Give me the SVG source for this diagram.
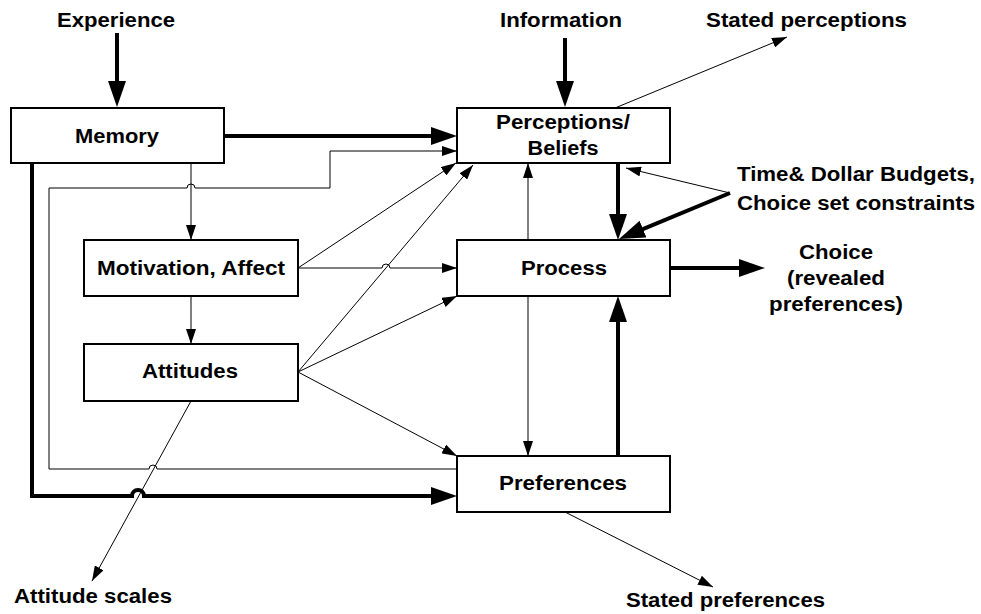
<svg xmlns="http://www.w3.org/2000/svg" width="981" height="614" viewBox="0 0 981 614">
<style>
text{font-family:"Liberation Sans",Arial,sans-serif;font-weight:bold;font-size:20px;fill:#000}
.box{fill:#fff;stroke:#000;stroke-width:2}
.thick{fill:none;stroke:#000;stroke-width:4;marker-end:url(#ab)}
.thin{fill:none;stroke:#000;stroke-width:1;marker-end:url(#as)}
.c{text-anchor:middle}
</style>
<defs>
<marker id="ab" markerUnits="userSpaceOnUse" markerWidth="26" markerHeight="18" refX="10" refY="9" orient="auto" viewBox="0 0 26 18"><path d="M0,0 L26,9 L0,18 z" fill="#000"/></marker>
<marker id="as" markerUnits="userSpaceOnUse" markerWidth="15" markerHeight="10" refX="15" refY="5" orient="auto" viewBox="0 0 15 10"><path d="M0,0 L15,5 L0,10 z" fill="#000"/></marker>
</defs>
<rect width="981" height="614" fill="#fff"/>
<g id="connectors">
<path class="thick" d="M117,33 V91"/>
<path class="thick" d="M565,38 V91"/>
<path class="thick" d="M224,136 H441"/>
<path class="thick" d="M32,163 V496 H132 A6,6 0 0 1 144,496 H441"/>
<path class="thick" d="M618,163 V224"/>
<path class="thick" d="M618,456 V312"/>
<path class="thick" d="M730,193 L633.8,232.9"/>
<path class="thick" d="M670,268 H749"/>
<path class="thin" d="M191,163 V240"/>
<path class="thin" d="M191,296 V344"/>
<path class="thin" d="M298,268 L456,163"/>
<path class="thin" d="M298,268 H382 A4,4 0 0 1 390,268 H457"/>
<path class="thin" d="M298,372 L473,165"/>
<path class="thin" d="M298,372 L457,296"/>
<path class="thin" d="M298,372 L457,456"/>
<path class="thin" d="M528,240 V163"/>
<path class="thin" d="M528,296 V456"/>
<path class="thin" d="M457,469 H157 A4,4 0 0 0 149,469 H49 V188 H187 A4,4 0 0 1 195,188 H330 V151 H457"/>
<path class="thin" d="M730,193 L626,168"/>
<path class="thin" d="M615,108 L787,37"/>
<path class="thin" d="M565,512 L713,587"/>
<path class="thin" d="M191,401 L92,581"/>
</g>
<g id="memory"><rect class="box" x="11" y="108" width="213" height="55"/><text class="c" x="117" y="143" textLength="84" lengthAdjust="spacingAndGlyphs">Memory</text></g>
<g id="perceptions"><rect class="box" x="457" y="108" width="213" height="55"/><text class="c" x="563" y="129" textLength="134" lengthAdjust="spacingAndGlyphs">Perceptions/</text><text class="c" x="563" y="155" textLength="71" lengthAdjust="spacingAndGlyphs">Beliefs</text></g>
<g id="motivation"><rect class="box" x="84" y="240" width="214" height="56"/><text class="c" x="191" y="275" textLength="188" lengthAdjust="spacingAndGlyphs">Motivation, Affect</text></g>
<g id="attitudes"><rect class="box" x="84" y="344" width="214" height="57"/><text class="c" x="190" y="378" textLength="96" lengthAdjust="spacingAndGlyphs">Attitudes</text></g>
<g id="process"><rect class="box" x="457" y="240" width="213" height="56"/><text class="c" x="564" y="275" textLength="86" lengthAdjust="spacingAndGlyphs">Process</text></g>
<g id="preferences"><rect class="box" x="457" y="456" width="213" height="56"/><text class="c" x="563" y="490" textLength="128" lengthAdjust="spacingAndGlyphs">Preferences</text></g>
<g id="experience"><text class="c" x="116" y="27" textLength="118" lengthAdjust="spacingAndGlyphs">Experience</text></g>
<g id="information"><text class="c" x="561" y="27" textLength="122" lengthAdjust="spacingAndGlyphs">Information</text></g>
<g id="stated-perceptions"><text x="706" y="27" textLength="201" lengthAdjust="spacingAndGlyphs">Stated perceptions</text></g>
<g id="budgets"><text x="737" y="181" textLength="238" lengthAdjust="spacingAndGlyphs">Time&amp; Dollar Budgets,</text><text x="737" y="210" textLength="238" lengthAdjust="spacingAndGlyphs">Choice set constraints</text></g>
<g id="choice"><text class="c" x="836" y="259" textLength="74" lengthAdjust="spacingAndGlyphs">Choice</text><text class="c" x="836" y="285" textLength="98" lengthAdjust="spacingAndGlyphs">(revealed</text><text class="c" x="836" y="311" textLength="134" lengthAdjust="spacingAndGlyphs">preferences)</text></g>
<g id="attitude-scales"><text x="14" y="603" textLength="158" lengthAdjust="spacingAndGlyphs">Attitude scales</text></g>
<g id="stated-preferences"><text x="626" y="607" textLength="199" lengthAdjust="spacingAndGlyphs">Stated preferences</text></g>
</svg>
